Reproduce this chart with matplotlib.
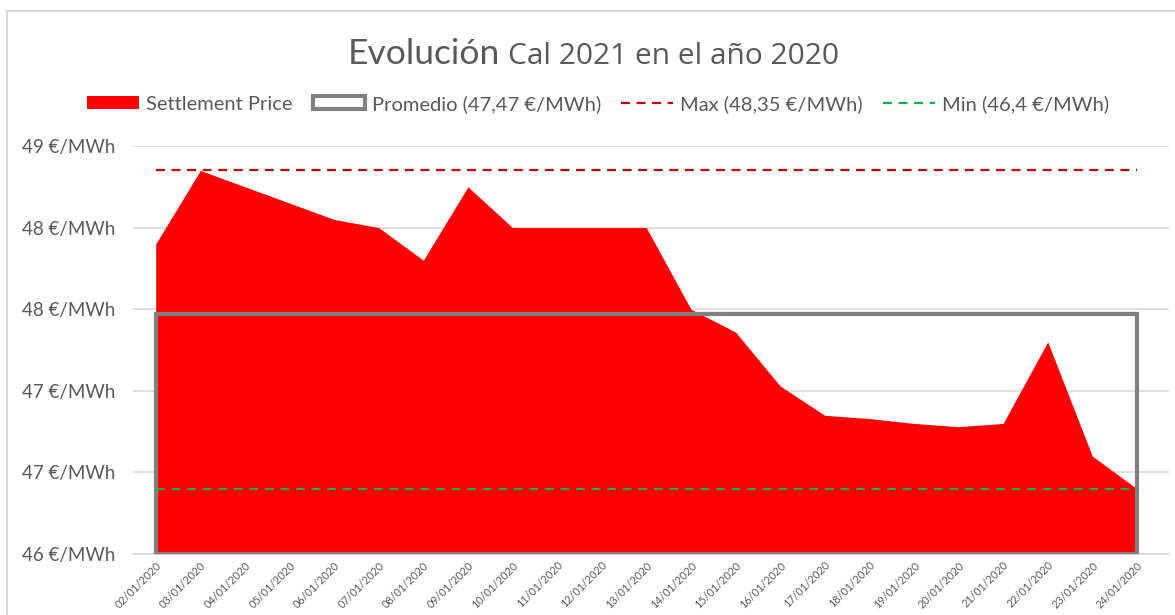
import matplotlib
matplotlib.use("Agg")
import matplotlib.pyplot as plt
from matplotlib.patches import Patch, Rectangle
from matplotlib.lines import Line2D

dates = ["02/01/2020", "03/01/2020", "04/01/2020", "05/01/2020", "06/01/2020",
         "07/01/2020", "08/01/2020", "09/01/2020", "10/01/2020", "11/01/2020",
         "12/01/2020", "13/01/2020", "14/01/2020", "15/01/2020", "16/01/2020",
         "17/01/2020", "18/01/2020", "19/01/2020", "20/01/2020", "21/01/2020",
         "22/01/2020", "23/01/2020", "24/01/2020"]
settlement = [47.90, 48.35, 48.25, 48.15, 48.05, 48.00, 47.80, 48.25, 48.00, 48.00,
              48.00, 48.00, 47.50, 47.36, 47.03, 46.85, 46.83, 46.80, 46.78, 46.80,
              47.30, 46.60, 46.40]
promedio = 47.47
max_val = 48.35
min_val = 46.4
y_ticks = [46.0, 46.5, 47.0, 47.5, 48.0, 48.5]
y_tick_labels = ["46 €/MWh", "47 €/MWh", "47 €/MWh", "48 €/MWh", "48 €/MWh", "49 €/MWh"]

TXT = "#595959"
FONT = "Lato"

fig = plt.figure(figsize=(11.75, 6.15), dpi=100)
ax = fig.add_axes([133/1175, 1-554/615, (1169-133)/1175, (554-146)/615])

x = list(range(len(dates)))
ax.fill_between(x, y_ticks[0], settlement, color="#FF0000", lw=0, zorder=2)
ax.fill_between([x[0], x[-1]], y_ticks[0], [promedio, promedio], facecolor="none",
                edgecolor="#808080", lw=3, zorder=3, joinstyle="miter")
ax.plot([x[0], x[-1]], [max_val, max_val], color="#C00000", lw=1.6,
        ls=(0, (4, 3)), zorder=4)
ax.plot([x[0], x[-1]], [min_val, min_val], color="#00B050", lw=1.6,
        ls=(0, (4, 3)), zorder=4)

ax.set_xlim(-0.51, 22.72)
ax.set_ylim(46.0, 48.5)
ax.set_yticks(y_ticks)
ax.set_yticklabels(y_tick_labels, fontsize=13.5, color=TXT, family=FONT)
ax.set_xticks(x)
ax.set_xticklabels(dates, rotation=45, ha="right", rotation_mode="anchor",
                   fontsize=7.8, color=TXT, family=FONT)
ax.tick_params(axis="both", length=0)
ax.tick_params(axis="y", pad=13)
ax.tick_params(axis="x", pad=4)
ax.grid(axis="y", color="#D9D9D9", lw=1.2, zorder=0)
ax.set_axisbelow(True)
for s in ["top", "right", "left"]:
    ax.spines[s].set_visible(False)
ax.spines["bottom"].set_color("#D9D9D9")
ax.spines["bottom"].set_linewidth(1.2)

# title
fig.text(500/1175, 1-64/615, "Evolución", ha="right", va="baseline",
         fontsize=25.5, color=TXT, family=FONT)
fig.text(508/1175, 1-64/615, "Cal 2021 en el año 2020", ha="left", va="baseline",
         fontsize=21.5, color=TXT, family="Open Sans")

handles = [
    Patch(facecolor="#FF0000", edgecolor="none"),
    Patch(facecolor="white", edgecolor="#808080", lw=3),
    Line2D([], [], color="#C00000", lw=1.6, ls=(0, (4, 3))),
    Line2D([], [], color="#00B050", lw=1.6, ls=(0, (4, 3))),
]
labels = ["Settlement Price", "Promedio (47,47 €/MWh)", "Max (48,35 €/MWh)",
          "Min (46,4 €/MWh)"]
leg = fig.legend(handles, labels, loc="center", bbox_to_anchor=(598/1175, 1-104/615),
                 ncol=4, frameon=False, prop={"family": FONT, "size": 14.5},
                 handlelength=2.6, handleheight=0.6, handletextpad=0.33,
                 columnspacing=1.0, labelcolor=TXT)

fig.add_artist(Rectangle((7/1175, -0.05), 1.2, 1.05-11/615, transform=fig.transFigure,
                         facecolor="none", edgecolor="#D9D9D9", lw=1.5))

fig.savefig("out.png", dpi=100)
